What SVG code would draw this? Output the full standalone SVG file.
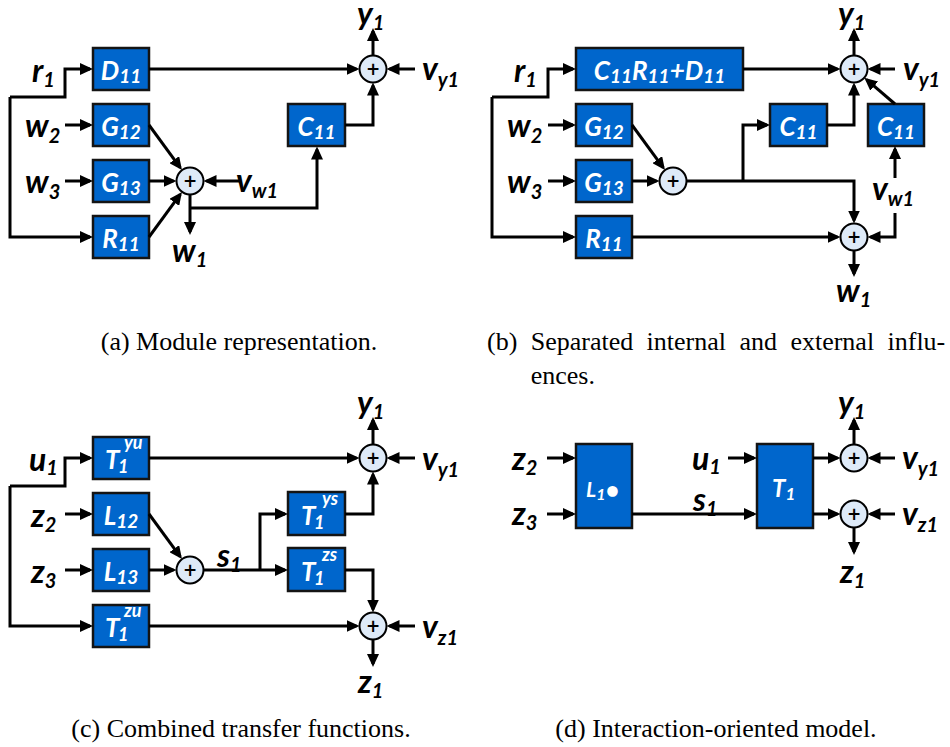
<svg xmlns="http://www.w3.org/2000/svg" width="950" height="747" viewBox="0 0 950 747">
  <defs>
    <marker id="arr" viewBox="0 0 13 12" refX="10" refY="6" markerWidth="13" markerHeight="12" markerUnits="userSpaceOnUse" orient="auto">
      <path d="M0,0 L13,6 L0,12 z" fill="#000"/>
    </marker>
    <style>
      .box { fill: #0066CC; stroke: #141414; stroke-width: 2.5; }
      .sum { fill: #DEEAF8; stroke: #000; stroke-width: 2; }
      .plus { font-family: "DejaVu Sans", sans-serif; font-weight: bold; font-size: 17px; fill: #000; text-anchor: middle; }
      .w { fill: none; stroke: #000; stroke-width: 3; stroke-linejoin: miter; }
      .a { marker-end: url(#arr); }
      .lbl { font-family: Lato, "Open Sans", "DejaVu Sans", sans-serif; font-weight: bold; font-style: italic; font-size: 32px; fill: #000; }
      .lbl .s { font-size: 20px; }
      .bt { font-family: Lato, "Open Sans", "DejaVu Sans", sans-serif; font-weight: bold; font-style: italic; font-size: 26px; fill: #fff; }
      .bt .s { font-size: 19px; }
      .bt .sm { font-size: 18px; }
      .cap { font-family: "Liberation Serif", "Times New Roman", serif; font-size: 26px; fill: #000; }
    </style>
  </defs>

  <!-- ============ (a) module representation ============ -->
  <g id="a-D11"><rect class="box" x="93" y="48" width="56" height="42"/><text class="bt" x="121" y="80" text-anchor="middle">D<tspan class="s" dy="3">11</tspan></text></g>
  <g id="a-G12"><rect class="box" x="93" y="104" width="56" height="42"/><text class="bt" x="121" y="136" text-anchor="middle">G<tspan class="s" dy="3">12</tspan></text></g>
  <g id="a-G13"><rect class="box" x="93" y="160" width="56" height="42"/><text class="bt" x="121" y="192" text-anchor="middle">G<tspan class="s" dy="3">13</tspan></text></g>
  <g id="a-R11"><rect class="box" x="93" y="216" width="56" height="42"/><text class="bt" x="121" y="248" text-anchor="middle">R<tspan class="s" dy="3">11</tspan></text></g>
  <g id="a-C11"><rect class="box" x="288" y="104" width="57" height="42"/><text class="bt" x="316.5" y="136" text-anchor="middle">C<tspan class="s" dy="3">11</tspan></text></g>
  <g id="a-sum-w"><circle class="sum" cx="190" cy="181" r="13.5"/><text class="plus" x="190" y="187">+</text></g>
  <g id="a-sum-y"><circle class="sum" cx="373" cy="69" r="13.5"/><text class="plus" x="373" y="75">+</text></g>

  <g id="a-connectors">
    <path class="w a" d="M10,97 H65 V69 H90"/>
    <path class="w a" d="M10,97 V237 H90"/>
    <path class="w a" d="M65,125 H90"/>
    <path class="w a" d="M65,181 H90"/>
    <path class="w a" d="M149,125 L180.2,167.7"/>
    <path class="w a" d="M149,181 H173.5"/>
    <path class="w a" d="M149,237 L180.2,194.3"/>
    <path class="w a" d="M240,181 H206.5"/>
    <path class="w a" d="M190,194.5 V232"/>
    <path class="w a" d="M190,208 H317 V149.5"/>
    <path class="w a" d="M149,69 H356.5"/>
    <path class="w a" d="M345,125 H373 V85.5"/>
    <path class="w a" d="M415,69 H389.5"/>
    <path class="w a" d="M373,55.5 V31"/>
  </g>

  <g id="a-labels">
    <text class="lbl" x="32" y="82">r<tspan class="s" dy="5">1</tspan></text>
    <text class="lbl" x="25" y="137">w<tspan class="s" dy="6">2</tspan></text>
    <text class="lbl" x="25" y="193">w<tspan class="s" dy="6">3</tspan></text>
    <text class="lbl" x="172" y="262">w<tspan class="s" dy="5">1</tspan></text>
    <text class="lbl" x="236" y="192">v<tspan class="s" dy="6">w1</tspan></text>
    <text class="lbl" x="357" y="25">y<tspan class="s" dy="5">1</tspan></text>
    <text class="lbl" x="422" y="80">v<tspan class="s" dy="7">y1</tspan></text>
  </g>

  <!-- ============ (b) separated internal and external influences ============ -->
  <g id="b-CRD"><rect class="box" x="576" y="48" width="167" height="42"/><text class="bt" x="659.5" y="80" text-anchor="middle">C<tspan class="s" dy="3">11</tspan><tspan dy="-3">R</tspan><tspan class="s" dy="3">11</tspan><tspan dy="-3">+D</tspan><tspan class="s" dy="3">11</tspan></text></g>
  <g id="b-G12"><rect class="box" x="576" y="104" width="56" height="42"/><text class="bt" x="604" y="136" text-anchor="middle">G<tspan class="s" dy="3">12</tspan></text></g>
  <g id="b-G13"><rect class="box" x="576" y="160" width="56" height="42"/><text class="bt" x="604" y="192" text-anchor="middle">G<tspan class="s" dy="3">13</tspan></text></g>
  <g id="b-R11"><rect class="box" x="576" y="216" width="56" height="42"/><text class="bt" x="604" y="248" text-anchor="middle">R<tspan class="s" dy="3">11</tspan></text></g>
  <g id="b-C11-s"><rect class="box" x="770" y="104" width="57" height="42"/><text class="bt" x="798.5" y="136" text-anchor="middle">C<tspan class="s" dy="3">11</tspan></text></g>
  <g id="b-C11-v"><rect class="box" x="868" y="104" width="56" height="42"/><text class="bt" x="896" y="136" text-anchor="middle">C<tspan class="s" dy="3">11</tspan></text></g>
  <g id="b-sum-s"><circle class="sum" cx="673" cy="181" r="13.5"/><text class="plus" x="673" y="187">+</text></g>
  <g id="b-sum-y"><circle class="sum" cx="854" cy="69" r="13.5"/><text class="plus" x="854" y="75">+</text></g>
  <g id="b-sum-w"><circle class="sum" cx="854" cy="237" r="13.5"/><text class="plus" x="854" y="243">+</text></g>

  <g id="b-connectors">
    <path class="w a" d="M492,97 H548 V69 H573"/>
    <path class="w a" d="M492,97 V237 H573"/>
    <path class="w a" d="M548,125 H573"/>
    <path class="w a" d="M548,181 H573"/>
    <path class="w a" d="M632,125 L663.2,167.7"/>
    <path class="w a" d="M632,181 H656.5"/>
    <path class="w a" d="M686.5,181 H854 V220.5"/>
    <path class="w a" d="M743,181 V125 H767"/>
    <path class="w a" d="M743,69 H837.5"/>
    <path class="w a" d="M827,125 H854 V85.5"/>
    <path class="w a" d="M632,237 H837.5"/>
    <path class="w a" d="M895,104 L866.6,79.7"/>
    <path class="w a" d="M895,69 H870.5"/>
    <path class="w a" d="M854,55.5 V31"/>
    <path class="w a" d="M895,178 V149"/>
    <path class="w a" d="M895,213 V237 H870.5"/>
    <path class="w a" d="M854,250.5 V274"/>
  </g>

  <g id="b-labels">
    <text class="lbl" x="514" y="82">r<tspan class="s" dy="5">1</tspan></text>
    <text class="lbl" x="507" y="137">w<tspan class="s" dy="6">2</tspan></text>
    <text class="lbl" x="507" y="193">w<tspan class="s" dy="6">3</tspan></text>
    <text class="lbl" x="872" y="200">v<tspan class="s" dy="6">w1</tspan></text>
    <text class="lbl" x="836" y="302">w<tspan class="s" dy="5">1</tspan></text>
    <text class="lbl" x="838" y="25">y<tspan class="s" dy="5">1</tspan></text>
    <text class="lbl" x="903" y="80">v<tspan class="s" dy="7">y1</tspan></text>
  </g>

  <!-- ============ (c) combined transfer functions ============ -->
  <!-- T with stacked subscript "1" and superscript pair, written as one text run -->
  <g id="c-T1yu"><rect class="box" x="93" y="437" width="56" height="42"/><text class="bt" x="105" y="469">T<tspan class="sm" x="118" dy="4">1</tspan><tspan class="sm" x="124" dy="-24">yu</tspan></text></g>
  <g id="c-L12"><rect class="box" x="93" y="493" width="56" height="42"/><text class="bt" x="121" y="525" text-anchor="middle">L<tspan class="s" dy="3">12</tspan></text></g>
  <g id="c-L13"><rect class="box" x="93" y="549" width="56" height="42"/><text class="bt" x="121" y="581" text-anchor="middle">L<tspan class="s" dy="3">13</tspan></text></g>
  <g id="c-T1zu"><rect class="box" x="93" y="605" width="56" height="42"/><text class="bt" x="105" y="637">T<tspan class="sm" x="118" dy="4">1</tspan><tspan class="sm" x="124" dy="-24">zu</tspan></text></g>
  <g id="c-T1ys"><rect class="box" x="288" y="492" width="57" height="43"/><text class="bt" x="301" y="525">T<tspan class="sm" x="314" dy="4">1</tspan><tspan class="sm" x="322" dy="-24">ys</tspan></text></g>
  <g id="c-T1zs"><rect class="box" x="288" y="548" width="57" height="43"/><text class="bt" x="301" y="581">T<tspan class="sm" x="314" dy="4">1</tspan><tspan class="sm" x="322" dy="-24">zs</tspan></text></g>
  <g id="c-sum-s"><circle class="sum" cx="190" cy="570" r="13.5"/><text class="plus" x="190" y="576">+</text></g>
  <g id="c-sum-y"><circle class="sum" cx="373" cy="458" r="13.5"/><text class="plus" x="373" y="464">+</text></g>
  <g id="c-sum-z"><circle class="sum" cx="373" cy="626" r="13.5"/><text class="plus" x="373" y="632">+</text></g>

  <g id="c-connectors">
    <path class="w a" d="M10,486 H65 V458 H90"/>
    <path class="w a" d="M10,486 V626 H90"/>
    <path class="w a" d="M65,514 H90"/>
    <path class="w a" d="M65,570 H90"/>
    <path class="w a" d="M149,514 L180.2,556.7"/>
    <path class="w a" d="M149,570 H173.5"/>
    <path class="w a" d="M203.5,570 H285"/>
    <path class="w a" d="M260,570 V514 H285"/>
    <path class="w a" d="M149,458 H356.5"/>
    <path class="w a" d="M345,514 H373 V474.5"/>
    <path class="w a" d="M149,626 H356.5"/>
    <path class="w a" d="M345,570 H373 V609.5"/>
    <path class="w a" d="M415,458 H389.5"/>
    <path class="w a" d="M415,626 H389.5"/>
    <path class="w a" d="M373,444.5 V420"/>
    <path class="w a" d="M373,639.5 V664"/>
  </g>

  <g id="c-labels">
    <text class="lbl" x="29" y="471">u<tspan class="s" dy="4">1</tspan></text>
    <text class="lbl" x="31" y="527">z<tspan class="s" dy="5">2</tspan></text>
    <text class="lbl" x="31" y="583">z<tspan class="s" dy="5">3</tspan></text>
    <text class="lbl" x="217" y="567">s<tspan class="s" dy="5">1</tspan></text>
    <text class="lbl" x="357" y="414">y<tspan class="s" dy="5">1</tspan></text>
    <text class="lbl" x="422" y="470">v<tspan class="s" dy="7">y1</tspan></text>
    <text class="lbl" x="422" y="638">v<tspan class="s" dy="7">z1</tspan></text>
    <text class="lbl" x="358" y="693">z<tspan class="s" dy="5">1</tspan></text>
  </g>

  <!-- ============ (d) interaction-oriented model ============ -->
  <g id="d-L1"><rect class="box" x="576" y="444" width="56" height="84"/><text class="bt" x="586" y="497" style="font-size:21px">L<tspan class="s" style="font-size:16px" dy="3">1</tspan><tspan dy="-1" style="font-size:24px">•</tspan></text></g>
  <g id="d-T1"><rect class="box" x="757" y="444" width="56" height="84"/><text class="bt" x="772" y="497" style="font-size:24px">T<tspan class="s" style="font-size:17px" dy="3">1</tspan></text></g>
  <g id="d-sum-y"><circle class="sum" cx="854" cy="458" r="13.5"/><text class="plus" x="854" y="464">+</text></g>
  <g id="d-sum-z"><circle class="sum" cx="854" cy="514" r="13.5"/><text class="plus" x="854" y="520">+</text></g>

  <g id="d-connectors">
    <path class="w a" d="M547,458 H573"/>
    <path class="w a" d="M547,514 H573"/>
    <path class="w a" d="M632,514 H754"/>
    <path class="w a" d="M728,458 H754"/>
    <path class="w a" d="M813,458 H837.5"/>
    <path class="w a" d="M813,514 H837.5"/>
    <path class="w a" d="M895,458 H870.5"/>
    <path class="w a" d="M895,514 H870.5"/>
    <path class="w a" d="M854,444.5 V420"/>
    <path class="w a" d="M854,527.5 V552"/>
  </g>

  <g id="d-labels">
    <text class="lbl" x="512" y="470">z<tspan class="s" dy="5">2</tspan></text>
    <text class="lbl" x="512" y="525">z<tspan class="s" dy="5">3</tspan></text>
    <text class="lbl" x="692" y="470">u<tspan class="s" dy="4">1</tspan></text>
    <text class="lbl" x="693" y="511">s<tspan class="s" dy="5">1</tspan></text>
    <text class="lbl" x="838" y="414">y<tspan class="s" dy="5">1</tspan></text>
    <text class="lbl" x="902" y="469">v<tspan class="s" dy="7">y1</tspan></text>
    <text class="lbl" x="902" y="525">v<tspan class="s" dy="7">z1</tspan></text>
    <text class="lbl" x="840" y="583">z<tspan class="s" dy="5">1</tspan></text>
  </g>

  <!-- ============ captions ============ -->
  <g id="captions">
    <text class="cap" x="239" y="350" text-anchor="middle">(a) Module representation.</text>
    <text class="cap" y="350"><tspan x="487">(b)</tspan><tspan x="530.7">Separated</tspan><tspan x="646.6">internal</tspan><tspan x="739.4">and</tspan><tspan x="790.4">external</tspan><tspan x="887.5">influ-</tspan></text>
    <text class="cap" x="530.7" y="384">ences.</text>
    <text class="cap" x="241" y="737" text-anchor="middle">(c) Combined transfer functions.</text>
    <text class="cap" x="716" y="737" text-anchor="middle">(d) Interaction-oriented model.</text>
  </g>
</svg>
